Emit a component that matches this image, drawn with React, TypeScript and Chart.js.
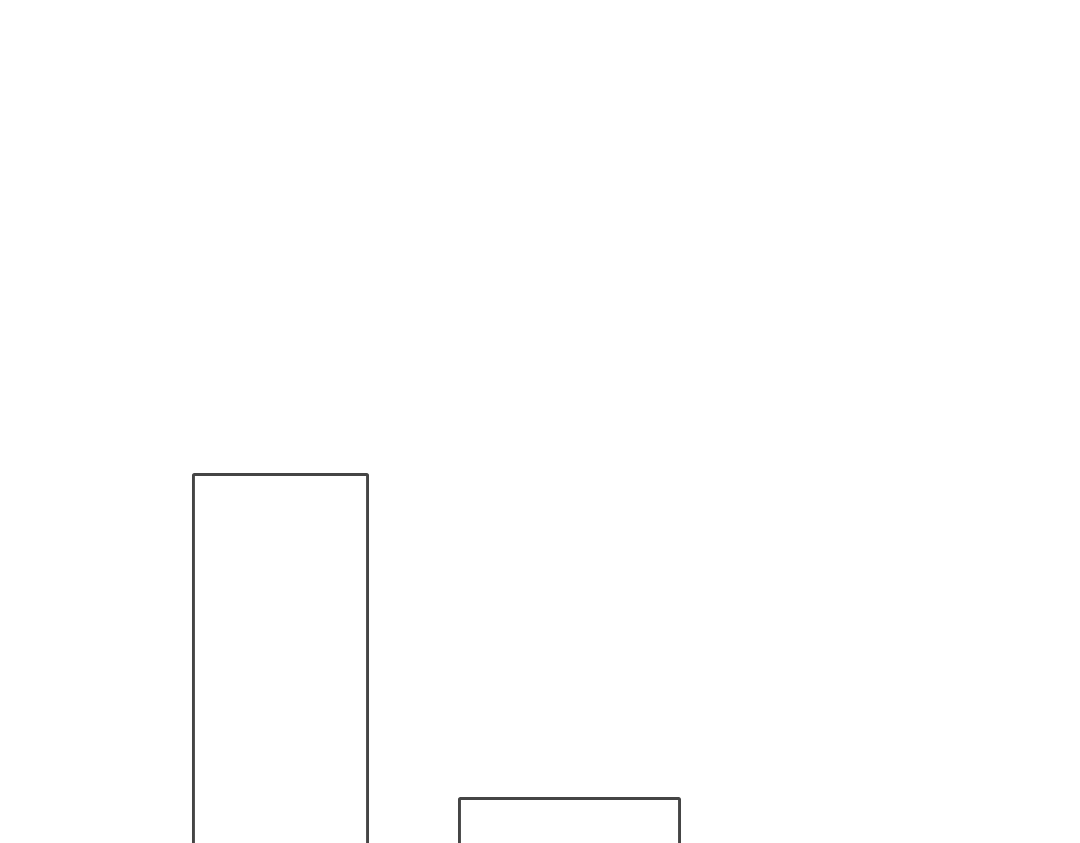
import React, { useRef, useEffect } from 'react';
import Chart from 'chart.js/auto';

const categories = ['A', 'B'];
const firstValues = [62.7, null];
const secondValues = [null, 30.3];
const yMin = 0;
const yMax = 110;

const OutlineBars = () => {
    const chartRef = useRef<HTMLCanvasElement | null>(null);

    useEffect(() => {
        if (!chartRef.current) return;

        const outline = {
            backgroundColor: 'rgba(255, 255, 255, 0)',
            borderColor: '#454545',
            borderWidth: 3,
            borderRadius: 2,
            categoryPercentage: 1,
            grouped: false,
        };

        const myChart = new Chart(chartRef.current, {
            type: 'bar',
            data: {
                labels: categories,
                datasets: [
                    { ...outline, label: 'First', data: firstValues, barPercentage: 0.613 },
                    { ...outline, label: 'Second', data: secondValues, barPercentage: 0.772 },
                ],
            },
            options: {
                animation: false,
                responsive: true,
                maintainAspectRatio: false,
                layout: { padding: { left: 136, right: 366, top: 0, bottom: 0 } },
                plugins: {
                    legend: { display: false },
                    tooltip: { enabled: false },
                },
                scales: {
                    x: { display: false, grid: { display: false } },
                    y: { display: false, min: yMin, max: yMax, grid: { display: false } },
                },
            },
        });
        return () => myChart.destroy(); // Cleanup on unmount
    }, []);

    return (
        <div style={{ position: 'fixed', top: 0, left: 0, width: '1080px', height: '843px', overflow: 'hidden', background: '#fff' }}>
            <div style={{ position: 'relative', width: '1080px', height: '1100px' }}>
                <canvas ref={chartRef} />
            </div>
        </div>
    );
};

export default function App() {
    return <OutlineBars />;
}
